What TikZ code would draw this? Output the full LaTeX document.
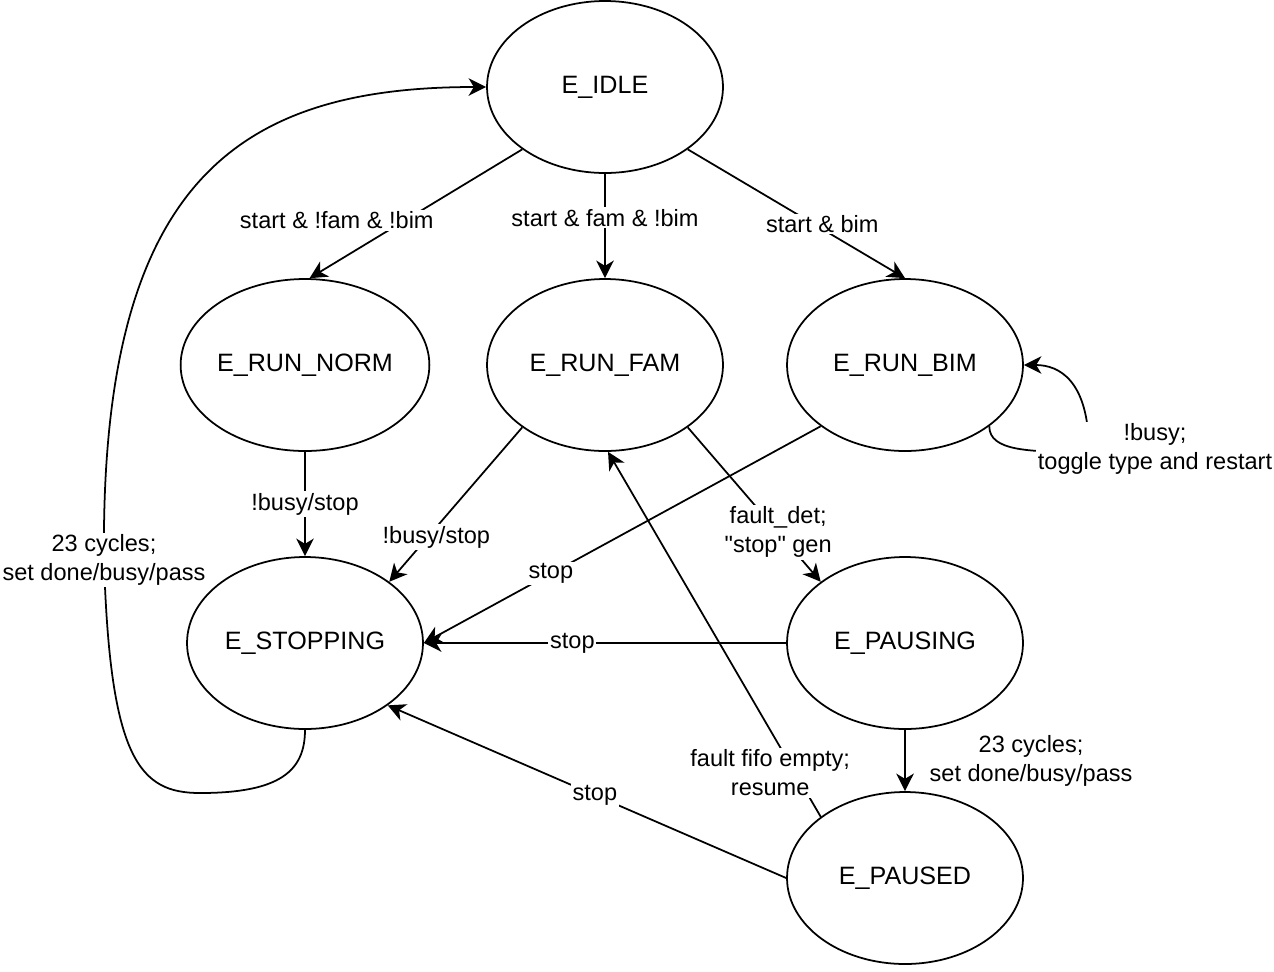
\documentclass[tikz,border=0pt]{standalone}
\usepackage{fontspec}
\setmainfont{Liberation Sans}
\usepackage{tikz}
\usetikzlibrary{shapes.geometric,arrows.meta}

\tikzset{
  state/.style={shape=ellipse, draw=black, line width=1pt, minimum width=4.72cm, minimum height=3.44cm, inner sep=0pt, font=\fontsize{14.3}{17}\selectfont},
  lbl/.style={fill=white, inner sep=1pt, align=center, font=\fontsize{13.4}{16.5}\selectfont},
  arr/.style={-{Stealth[length=10pt,width=10pt,inset=3pt]}, line width=1pt}
}

\begin{document}
\begin{tikzpicture}[x=0.02cm, y=-0.02cm]
        	\useasboundingbox (0,0) rectangle (1274,971);
        	
        	\node[state] (idle) at (605, 87) {E\_IDLE};
        	\node[state] (norm) at (305, 365) {E\_RUN\_NORM};
        	\node[state] (fam) at (605, 365) {E\_RUN\_FAM};
        	\node[state] (bim) at (905, 365) {E\_RUN\_BIM};
        	\node[state] (stopping) at (305, 643) {E\_STOPPING};
        	\node[state] (pausing) at (905, 643) {E\_PAUSING};
        	\node[state] (paused) at (905, 878) {E\_PAUSED};
        	
        	\coordinate (bimloop) at (1089, 452);
        	\coordinate (stoploop) at (200, 793);
        	\coordinate (stoplbl) at (104, 560);
        	
        	\draw[arr] (idle.217) -- (norm.87) node[lbl, pos=0.55, xshift=-1.37cm] {start \& !fam \& !bim};
        	\draw[arr] (idle.south) -- (fam.north) node[lbl, pos=0.42] {start \& fam \& !bim};
        	\draw[arr] (idle.323) -- (bim.north) node[lbl, pos=0.58, xshift=0.17cm] {start \& bim};
        	\draw[arr] (bim.324) .. controls +(0,25) and +(-60,0) .. (bimloop) node[lbl, pos=1, xshift=1.32cm, yshift=0.06cm] {!busy;\\toggle type and restart} .. controls +(0,-72) and +(35,0) .. (bim.east);
        	\draw[arr] (norm.south) -- (stopping.north) node[lbl, pos=0.5] {!busy/stop};
        	\draw[arr] (fam.217) -- (stopping.36) node[lbl, pos=0.71, xshift=0.17cm] {!busy/stop};
        	\draw[arr] (fam.323) -- (pausing.144) node[lbl, pos=0.68] {fault\_det;\\\textquotedbl stop\textquotedbl{} gen};
            \draw[arr] (bim.216) -- (stopping.east) node[lbl, pos=0.68] {stop};
            \draw[arr] (pausing.west) -- (stopping.east) node[lbl, pos=0.59] {stop};
            \draw[arr] (pausing.south) -- (paused.north) node[lbl, pos=0.5, anchor=west, xshift=0.44cm] {23 cycles;\\set done/busy/pass};
            \draw[arr] (paused.144) -- (fam.272) node[lbl, pos=0.12, xshift=-0.5cm] {fault fifo empty;\\resume};
            \draw[arr] (paused.west) -- (stopping.323) node[lbl, pos=0.48] {stop};
            \draw[arr] (stopping.south) .. controls +(0,41) and +(80,0) .. (stoploop) .. controls +(-60,0) and +(6,200) .. (stoplbl) node[lbl, pos=1] {23 cycles;\\set done/busy/pass} .. controls +(-4,-380) and +(-247,0) .. (idle.west);
            
\end{tikzpicture}
\end{document}
